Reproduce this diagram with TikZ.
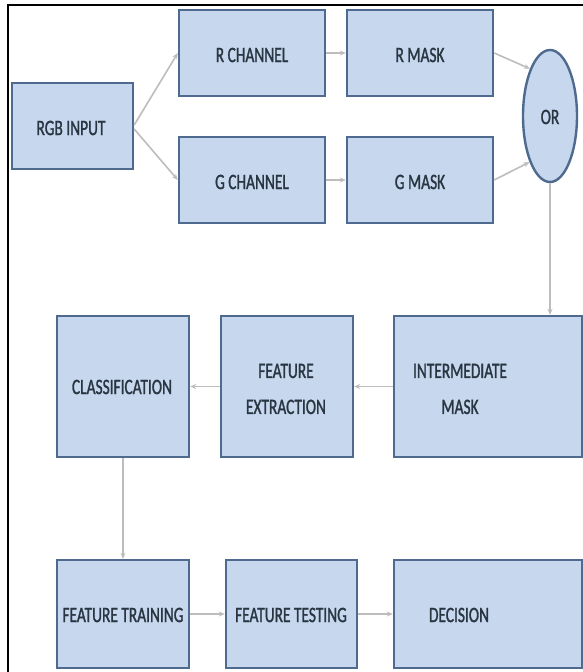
\documentclass[tikz,border=0pt]{standalone}
\usepackage{fontspec}
\setmainfont{Carlito}[FakeStretch=0.7,FakeBold=1.2]
\usetikzlibrary{arrows.meta,shapes.geometric}
\definecolor{boxfill}{HTML}{C6D7EE}
\definecolor{boxline}{HTML}{4E6A8E}
\definecolor{arr}{HTML}{BDBDBD}
\definecolor{txt}{HTML}{2A3542}
\begin{document}
\begin{tikzpicture}[x=1pt,y=-1pt,
  box/.style={draw=boxline, line width=2.4pt, fill=boxfill, rectangle, inner sep=0pt},
  lbl/.style={text=txt, font=\fontsize{22}{36}\selectfont, align=center, inner sep=0pt},
  flow/.style={draw=arr, line width=1.6pt, -{Stealth[length=6pt,width=5pt]}}]
\clip (0,0) rectangle (583,672);
\fill[white] (0,0) rectangle (583,672);
% frame
\draw[line width=1.6pt, black] (8,672) -- (8,5) -- (583,5);
% boxes
\node[box, minimum width=121pt, minimum height=86pt] (rgb) at (72.5,126) {};
\node[lbl] (rgbt) at (71,128) {RGB INPUT};
\node[box, minimum width=146pt, minimum height=86pt] (rch) at (252,53) {};
\node[lbl] (rcht) at (252,55) {R CHANNEL};
\node[box, minimum width=146pt, minimum height=86pt] (gch) at (252,180) {};
\node[lbl] (gcht) at (252,182) {G CHANNEL};
\node[box, minimum width=146pt, minimum height=86pt] (rmask) at (420,53) {};
\node[lbl] (rmaskt) at (420,55) {R MASK};
\node[box, ellipse, minimum width=54pt, minimum height=132pt] (or) at (550,116) {};
\node[lbl] (ort) at (550,117) {OR};
\node[box, minimum width=146pt, minimum height=86pt] (gmask) at (420,180) {};
\node[lbl] (gmaskt) at (420,182) {G MASK};
\node[box, minimum width=132pt, minimum height=141pt] (cls) at (123,386.5) {};
\node[lbl] (clst) at (122,387) {CLASSIFICATION};
\node[box, minimum width=132pt, minimum height=141pt] (fe) at (287,386.5) {};
\node[lbl] (fet) at (286,389) {FEATURE\\EXTRACTION};
\node[box, minimum width=188pt, minimum height=141pt] (im) at (488,386.5) {};
\node[lbl] (imt) at (460,389) {INTERMEDIATE\\MASK};
\node[box, minimum width=132pt, minimum height=108pt] (ft) at (123,614) {};
\node[lbl] (ftt) at (123,615) {FEATURE TRAINING};
\node[box, minimum width=131pt, minimum height=108pt] (fts) at (291.5,614) {};
\node[lbl] (ftst) at (291,615) {FEATURE TESTING};
\node[box, minimum width=188pt, minimum height=108pt] (dec) at (488,614) {};
\node[lbl] (dect) at (459,615) {DECISION};
% connectors
\draw[flow] ([yshift=1pt]rgb.east) -- (rch.west);
\draw[flow] ([yshift=-3pt]rgb.east) -- (gch.west);
\draw[flow] (rch.east) -- (rmask.west);
\draw[flow] (gch.east) -- (gmask.west);
\draw[flow] (rmask.east) -- (or.113);
\draw[flow] (gmask.east) -- (or.246);
\draw[flow] (or.south) -- (or.south |- im.north);
\draw[flow] (im.west) -- (fe.east);
\draw[flow] (fe.west) -- (cls.east);
\draw[flow] (cls.south) -- (ft.north);
\draw[flow] (ft.east) -- (fts.west);
\draw[flow] (fts.east) -- (dec.west);
\end{tikzpicture}
\end{document}
